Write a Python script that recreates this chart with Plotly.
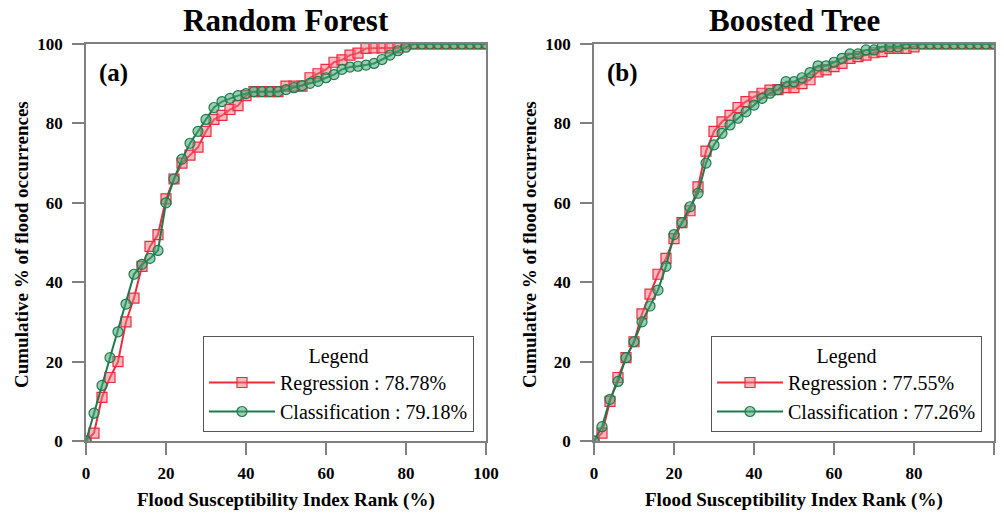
import plotly.graph_objects as go

# ---------------- data ----------------
rank = list(range(0, 101, 2))

rf_regression = [0, 2, 11, 16, 20, 30, 36, 44, 49, 52,
                 61, 66, 70, 72, 74, 78, 81, 82, 83.5, 84.5,
                 87, 88, 88, 88, 88, 89.4, 89.4, 89.4, 91.5, 92.5,
                 93.6, 95.4, 96, 97.2, 97.7, 98.9, 99, 99, 99, 99,
                 100, 100, 100, 100, 100, 100, 100, 100, 100, 100, 100]
rf_classification = [0, 7, 14, 21, 27.5, 34.5, 42, 44.5, 46, 48,
                     60, 66, 71, 75, 78, 81, 84, 85.5, 86.3, 87,
                     87.5, 88, 88, 88, 88, 88.5, 89, 89.5, 90.1, 90.6,
                     91.5, 92.3, 93.6, 94.2, 94.4, 94.7, 95.1, 96.1, 97.2, 98.3,
                     99.2, 100, 100, 100, 100, 100, 100, 100, 100, 100, 100]
bt_regression = [0, 2, 10, 16, 21, 25, 32, 37, 42, 46,
                 51, 55, 58, 64, 73, 78, 80.4, 82, 84, 85.5,
                 86.7, 87.6, 88.4, 88.5, 89, 89, 90, 91, 93, 93.5,
                 94.3, 95.1, 96.4, 96.8, 97.2, 97.8, 98.1, 98.9, 98.9, 98.9,
                 99.3, 100, 100, 100, 100, 100, 100, 100, 100, 100, 100]
bt_classification = [0, 3.6, 10.5, 15, 21, 25, 30, 34, 38, 44,
                     52, 55, 59, 62.4, 70, 74.6, 77.5, 79.6, 81.3, 82.9,
                     84.6, 86.3, 87.6, 88.5, 90.5, 90.5, 91.5, 92.8, 94.5, 94.5,
                     95.4, 96.4, 97.5, 97.5, 98.5, 98.5, 99.3, 99.3, 99.3, 100,
                     100, 100, 100, 100, 100, 100, 100, 100, 100, 100, 100]

panel_titles = ["Random Forest", "Boosted Tree"]
panel_tags = ["(a)", "(b)"]
reg_labels = ["Regression : 78.78%", "Regression : 77.55%"]
cls_labels = ["Classification : 79.18%", "Classification : 77.26%"]
x_title = "Flood Susceptibility Index Rank (%)"
y_title = "Cumulative % of flood occurrences"
tick_vals = [0, 20, 40, 60, 80, 100]

# ---------------- styling ----------------
FONT = "Liberation Serif"
RED_LINE = "#ee2a40"
RED_FILL = "rgba(242,115,125,0.5)"
GREEN_LINE = "#1d7a4c"
GREEN_FILL = "rgba(70,165,115,0.55)"
W, H = 1004, 519
AX = "#808080"

fig = go.Figure()

series = [(rf_regression, rf_classification), (bt_regression, bt_classification)]
for i, (reg, cls) in enumerate(series):
    xa = "x" if i == 0 else "x2"
    ya = "y" if i == 0 else "y2"
    lg = "legend" if i == 0 else "legend2"
    fig.add_trace(go.Scatter(
        x=rank, y=reg, mode="lines+markers", name=reg_labels[i],
        xaxis=xa, yaxis=ya, legend=lg,
        line=dict(color=RED_LINE, width=2),
        marker=dict(symbol="square", size=10, color=RED_FILL,
                    line=dict(color=RED_LINE, width=1.2)),
    ))
    fig.add_trace(go.Scatter(
        x=rank, y=cls, mode="lines+markers", name=cls_labels[i],
        xaxis=xa, yaxis=ya, legend=lg,
        line=dict(color=GREEN_LINE, width=2),
        marker=dict(symbol="circle", size=10, color=GREEN_FILL,
                    line=dict(color=GREEN_LINE, width=1.2)),
    ))

px0 = [86, 594]
px1 = [486, 994]
top_px, bot_px = 44, 441

def axis_common():
    return dict(
        range=[0, 100], tickvals=tick_vals, ticks="outside", ticklen=12,
        tickcolor=AX, tickwidth=1.5, showline=True, linecolor=AX, linewidth=1.5,
        mirror=True, showgrid=False, zeroline=False, automargin=False,
        tickfont=dict(family=FONT, size=17, color="black", weight="bold"),
    )

layout = dict(
    width=W, height=H, margin=dict(l=0, r=0, t=0, b=0, pad=0, autoexpand=False),
    plot_bgcolor="white", paper_bgcolor="white", showlegend=True,
)
for i in range(2):
    sfx = "" if i == 0 else "2"
    xd = [px0[i] / W, px1[i] / W]
    yd = [(H - bot_px) / H, (H - top_px) / H]
    xa = axis_common(); xa.update(domain=xd, anchor="y" + sfx, ticklabelstandoff=4)
    ya = axis_common(); ya.update(domain=yd, anchor="x" + sfx, ticklabelstandoff=6)
    layout["xaxis" + sfx] = xa
    layout["yaxis" + sfx] = ya

legend_right = [474, 982]
for i in range(2):
    key = "legend" if i == 0 else "legend2"
    layout[key] = dict(
        x=legend_right[i] / W, y=(H - 432) / H, xanchor="right", yanchor="bottom",
        bgcolor="white", bordercolor="#555555", borderwidth=1,
        font=dict(family=FONT, size=20, color="black"),
        title=dict(text="Legend", side="top center",
                   font=dict(family=FONT, size=20, color="black")),
        itemwidth=66, tracegroupgap=0,
    )

fig.update_layout(**layout)

ann = []
ytitle_x = [22, 530]
tag_x = [97, 605]
for i in range(2):
    cx = (px0[i] + px1[i]) / 2
    ann.append(dict(text=panel_titles[i], x=cx / W, y=(H - 20) / H, xref="paper", yref="paper",
                    showarrow=False, xanchor="center", yanchor="middle",
                    font=dict(family=FONT, size=31, color="black", weight="bold")))
    ann.append(dict(text=panel_tags[i], x=tag_x[i] / W, y=(H - 73) / H, xref="paper", yref="paper",
                    showarrow=False, xanchor="left", yanchor="middle",
                    font=dict(family=FONT, size=25, color="black", weight="bold")))
    ann.append(dict(text=x_title, x=cx / W, y=(H - 500) / H, xref="paper", yref="paper",
                    showarrow=False, xanchor="center", yanchor="middle",
                    font=dict(family=FONT, size=19, color="black", weight="bold")))
    ann.append(dict(text=y_title, x=ytitle_x[i] / W, y=(H - 245) / H, xref="paper", yref="paper",
                    showarrow=False, xanchor="center", yanchor="middle", textangle=-90,
                    font=dict(family=FONT, size=19, color="black", weight="bold")))
fig.update_layout(annotations=ann)

fig.write_html("out.html", config={"displayModeBar": False},
               post_script="document.body.style.margin='0';document.body.style.padding='0';")
